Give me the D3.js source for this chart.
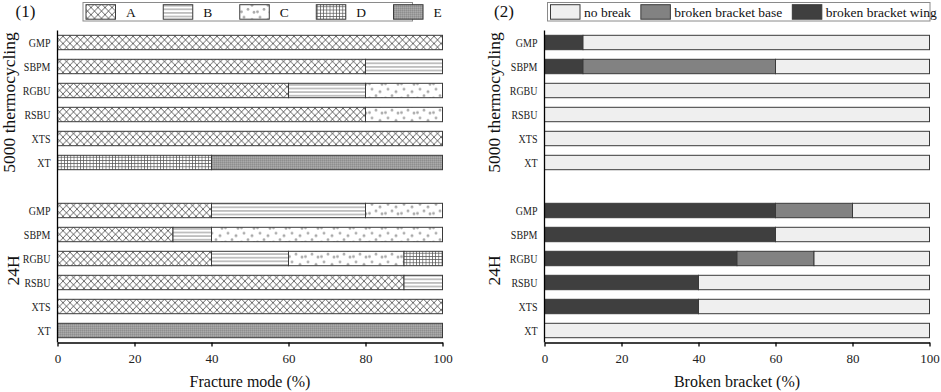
<!DOCTYPE html>
<html>
<head>
<meta charset="utf-8">
<script src="https://cdn.jsdelivr.net/npm/d3@7"></script>
<style>
  body { margin: 0; background: #fff; }
  svg { display: block; font-family: "Liberation Serif", "DejaVu Serif", serif; }
</style>
</head>
<body>
<div id="chart"></div>
<script>
// Data -------------------------------------------------------------------------------------------------------------
const categories = ["GMP", "SBPM", "RGBU", "RSBU", "XTS", "XT"];
const groups = ["5000 thermocycling", "24H"];

// fracture mode, rows: 6 thermocycling rows then 6 24H rows
const modeKeys = ["A", "B", "C", "D", "E"];
const fractureA = [100, 80, 60, 80, 100, 0, 40, 30, 40, 90, 100, 0];
const fractureB = [0, 20, 20, 0, 0, 0, 40, 10, 20, 10, 0, 0];
const fractureC = [0, 0, 20, 20, 0, 0, 20, 60, 30, 0, 0, 0];
const fractureD = [0, 0, 0, 0, 0, 40, 0, 0, 10, 0, 0, 0];
const fractureE = [0, 0, 0, 0, 0, 60, 0, 0, 0, 0, 0, 100];

// broken bracket
const breakKeys = ["broken bracket wing", "broken bracket base", "no break"];
const legendBreakKeys = ["no break", "broken bracket base", "broken bracket wing"];
const bracketWing = [10, 10, 0, 0, 0, 0, 60, 60, 50, 40, 40, 0];
const bracketBase = [0, 50, 0, 0, 0, 0, 20, 0, 20, 0, 0, 0];
const noBreak = [90, 40, 100, 100, 100, 100, 20, 40, 30, 60, 60, 100];

const xTicks = [0, 20, 40, 60, 80, 100];

// Canvas -----------------------------------------------------------------------------------------------------------
const canvasWidth = 941;
const canvasHeight = 392;
const plotTop = 30.5;
const plotBottom = 342.5;

const svg = d3.select("#chart")
  .append("svg")
  .attr("width", canvasWidth)
  .attr("height", canvasHeight);

const defs = svg.append("defs");

// patterns for fracture modes
const pA = defs.append("pattern").attr("id", "pat-A")
  .attr("patternUnits", "userSpaceOnUse").attr("width", 7).attr("height", 7.2).attr("y", 0.3);
pA.append("rect").attr("width", 7).attr("height", 7.2).attr("fill", "#fff");
pA.append("path")
  .attr("d", "M-1,-1.03L8,8.23M-1,8.23L8,-1.03")
  .attr("stroke", "#4a4a4a").attr("stroke-width", 0.8).attr("fill", "none");

const pB = defs.append("pattern").attr("id", "pat-B")
  .attr("patternUnits", "userSpaceOnUse").attr("width", 8).attr("height", 3.6).attr("y", 0.3);
pB.append("rect").attr("width", 8).attr("height", 3.6).attr("fill", "#fff");
pB.append("line").attr("x1", 0).attr("x2", 8).attr("y1", 1.8).attr("y2", 1.8)
  .attr("stroke", "#8a8a8a").attr("stroke-width", 1);

const pC = defs.append("pattern").attr("id", "pat-C")
  .attr("patternUnits", "userSpaceOnUse").attr("width", 16).attr("height", 14.4).attr("y", 0.3);
pC.append("rect").attr("width", 16).attr("height", 14.4).attr("fill", "#fff");
[[4, 2.5], [12, 5], [8, 9], [1.5, 11.5], [14, 12]].forEach(function(d) {
  pC.append("circle").attr("cx", d[0]).attr("cy", d[1]).attr("r", 1.4).attr("fill", "#a8a8a8");
});

const pD = defs.append("pattern").attr("id", "pat-D")
  .attr("patternUnits", "userSpaceOnUse").attr("width", 3.2).attr("height", 3.2);
pD.append("rect").attr("width", 3.2).attr("height", 3.2).attr("fill", "#fff");
pD.append("path").attr("d", "M0,0.4H3.2M0.4,0V3.2")
  .attr("stroke", "#555").attr("stroke-width", 0.7);

const pE = defs.append("pattern").attr("id", "pat-E")
  .attr("patternUnits", "userSpaceOnUse").attr("width", 2).attr("height", 2);
pE.append("rect").attr("width", 2).attr("height", 2).attr("fill", "#9c9c9c");
pE.append("rect").attr("width", 1).attr("height", 1).attr("fill", "#8e8e8e");
pE.append("rect").attr("x", 1).attr("y", 1).attr("width", 1).attr("height", 1).attr("fill", "#aaaaaa");

const modeFill = d3.scaleOrdinal()
  .domain(modeKeys)
  .range(modeKeys.map(k => "url(#pat-" + k + ")"));

const breakFill = d3.scaleOrdinal()
  .domain(["no break", "broken bracket base", "broken bracket wing"])
  .range(["#efefef", "#828282", "#3f3f3f"]);

// Rows (with an empty slot between the two groups) -----------------------------------------------------------------
const rowKeys = [];
groups.forEach(function(g, gi) {
  categories.forEach(c => rowKeys.push(g + "|" + c));
  if (gi < groups.length - 1) rowKeys.push("gap");
});
const dataRowKeys = rowKeys.filter(k => k != "gap");

const yScale = d3.scaleBand()
  .domain(rowKeys)
  .range([plotTop, plotBottom])
  .paddingInner(0.4)
  .paddingOuter(0.2);

const fractureRows = dataRowKeys.map((k, i) => ({
  key: k, A: fractureA[i], B: fractureB[i], C: fractureC[i], D: fractureD[i], E: fractureE[i]
}));
const breakRows = dataRowKeys.map((k, i) => ({
  key: k, "broken bracket wing": bracketWing[i], "broken bracket base": bracketBase[i], "no break": noBreak[i]
}));

// Panel drawing ----------------------------------------------------------------------------------------------------
const drawPanel = function(opt) {
  const xScale = d3.scaleLinear().domain([0, 100]).range([opt.left, opt.right]);
  const g = svg.append("g");

  const series = d3.stack().keys(opt.keys)(opt.rows);
  g.selectAll("g.series")
    .data(series)
    .join("g")
    .attr("class", "series")
    .attr("fill", d => opt.fill(d.key))
    .selectAll("rect")
    .data(d => d.filter(p => p[1] - p[0] > 0))
    .join("rect")
    .attr("x", d => xScale(d[0]))
    .attr("y", d => yScale(d.data.key))
    .attr("width", d => xScale(d[1]) - xScale(d[0]))
    .attr("height", yScale.bandwidth())
    .attr("stroke", "#3a3a3a")
    .attr("stroke-width", 1);

  // x axis
  const xAxis = g.append("g")
    .attr("transform", "translate(0," + plotBottom + ")")
    .call(d3.axisBottom(xScale).tickValues(xTicks).tickSize(4).tickPadding(7).tickSizeOuter(0));
  xAxis.selectAll("path, line").attr("stroke", "#000").attr("stroke-width", 1.3);
  xAxis.selectAll("text").attr("fill", "#222").style("font-size", "13px")
    .style("font-family", "'Liberation Serif', serif");

  g.append("text")
    .text(opt.title)
    .attr("x", (opt.left + opt.right) / 2)
    .attr("y", 387)
    .attr("text-anchor", "middle")
    .style("font-size", "16px")
    .attr("fill", "#111");

  // y axis line and category labels
  g.append("line")
    .attr("x1", opt.left).attr("x2", opt.left)
    .attr("y1", plotTop).attr("y2", plotBottom)
    .attr("stroke", "#000").attr("stroke-width", 1.3);

  // condensed look of the original labels
  g.selectAll("text.cat")
    .data(dataRowKeys)
    .join("text")
    .attr("class", "cat")
    .text(d => d.split("|")[1])
    .attr("transform", d => "translate(" + (opt.left - 7) + "," + (yScale(d) + yScale.bandwidth() / 2) + ") scale(0.87,1)")
    .attr("dy", "0.35em")
    .attr("text-anchor", "end")
    .style("font-size", "11.5px")
    .attr("fill", "#222");

  // group labels
  groups.forEach(function(grp, gi) {
    const first = yScale(grp + "|" + categories[0]);
    const last = yScale(grp + "|" + categories[categories.length - 1]) + yScale.bandwidth();
    g.append("text")
      .text(grp)
      .attr("transform", "translate(" + opt.groupLabelX[gi] + "," + ((first + last) / 2) + ") rotate(-90)")
      .attr("text-anchor", "middle")
      .style("font-size", "17.5px")
      .attr("fill", "#111");
  });

  // panel number
  g.append("text")
    .text(opt.label)
    .attr("x", opt.labelX)
    .attr("y", 17)
    .style("font-size", "17px")
    .attr("fill", "#111");

  // legend
  const legend = g.append("g");
  legend.append("rect")
    .attr("x", opt.legendBox[0])
    .attr("y", 2.5)
    .attr("width", opt.legendBox[1] - opt.legendBox[0])
    .attr("height", 18.5)
    .attr("fill", "#fff")
    .attr("stroke", "#8a8a8a")
    .attr("stroke-width", 1);

  let cursor = opt.legendBox[0] + 3;
  opt.legendKeys.forEach(function(k) {
    legend.append("rect")
      .attr("x", cursor)
      .attr("y", 4.7)
      .attr("width", 29.5)
      .attr("height", 14.5)
      .attr("fill", opt.fill(k))
      .attr("stroke", "#3a3a3a")
      .attr("stroke-width", 1);
    const t = legend.append("text")
      .text(k)
      .attr("x", cursor + 29.5 + opt.labelGap)
      .attr("y", 16.5)
      .style("font-size", "13.5px")
      .attr("fill", "#111");
    cursor = cursor + 29.5 + opt.labelGap + t.node().getComputedTextLength() + opt.itemGap;
  });
};

drawPanel({
  left: 57.5,
  right: 442.5,
  rows: fractureRows,
  keys: modeKeys,
  legendKeys: modeKeys,
  fill: modeFill,
  title: "Fracture mode (%)",
  label: "(1)",
  labelX: 15.5,
  groupLabelX: [15, 19],
  legendBox: [83, 412.5],
  labelGap: 10.5,
  itemGap: 27.5
});

drawPanel({
  left: 544.5,
  right: 929.5,
  rows: breakRows,
  keys: breakKeys,
  legendKeys: legendBreakKeys,
  fill: breakFill,
  title: "Broken bracket (%)",
  label: "(2)",
  labelX: 494,
  groupLabelX: [500, 500],
  legendBox: [547.5, 930],
  labelGap: 4,
  itemGap: 10
});
</script>
</body>
</html>
